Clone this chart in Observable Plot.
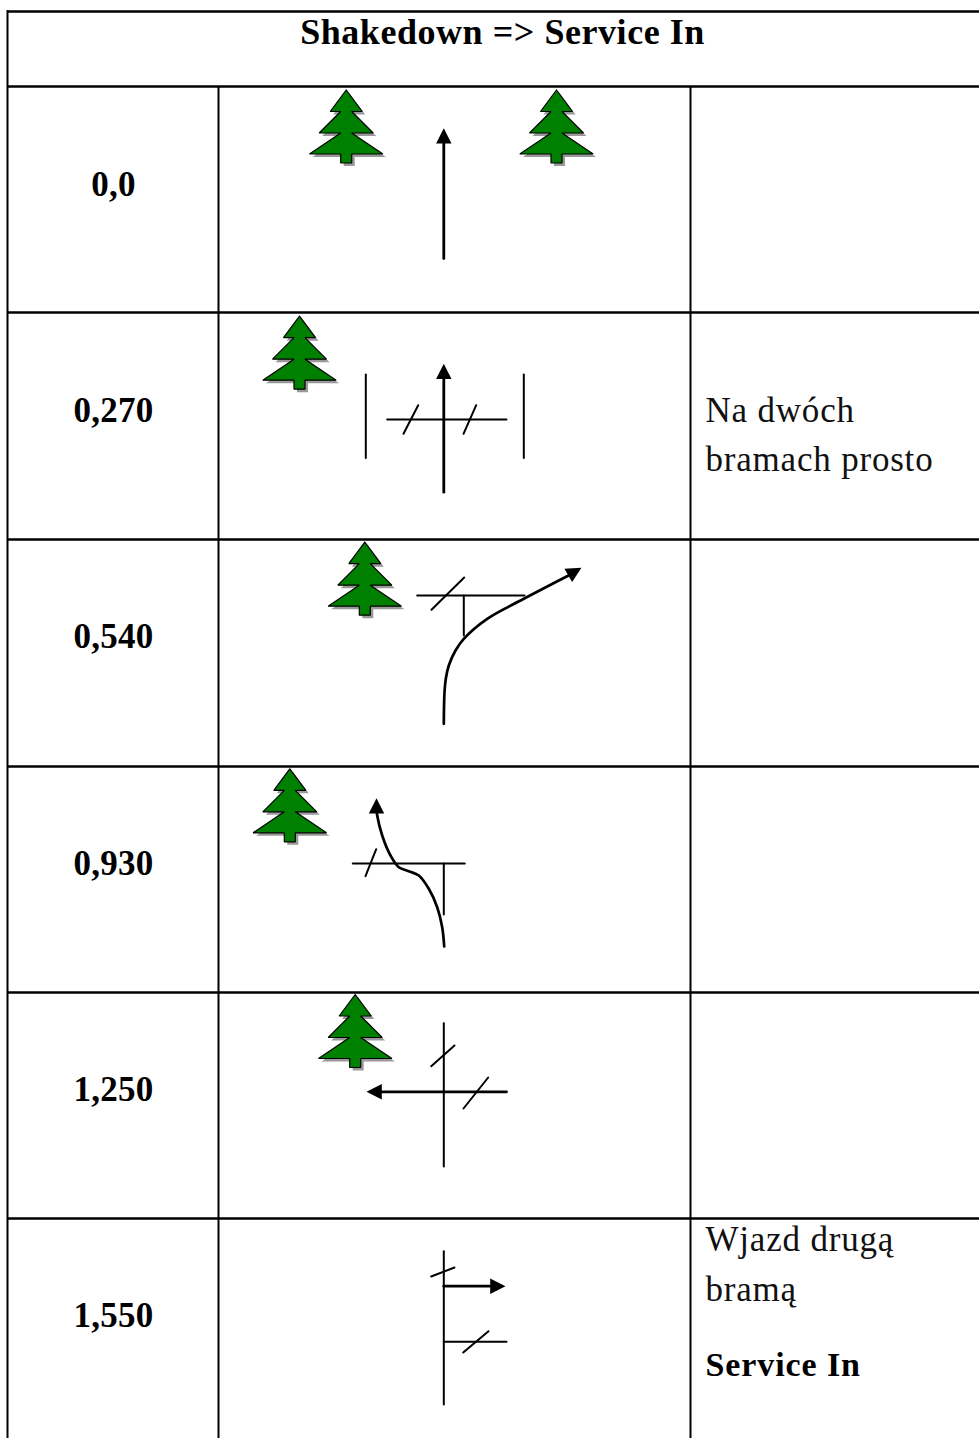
<!DOCTYPE html>
<html><head><meta charset="utf-8">
<script src="https://cdn.jsdelivr.net/npm/d3@7"></script>
<script src="https://cdn.jsdelivr.net/npm/@observablehq/plot@0.6"></script>
<style>
html,body{margin:0;padding:0;background:#fff;overflow:hidden}
svg{display:block}
</style></head><body><div id="chart"></div>
<script>
const title = "Shakedown => Service In";
const rowLabels = ["0,0","0,270","0,540","0,930","1,250","1,550"];
const rowLabelY = [195,421,647,874,1100,1326];
const rowLines = [11,86,312,539,766,992,1218];
const colLines = [218,690];
const notes = [["Na dwóch",705,421],["bramach prosto",705,470],["Wjazd drugą",705,1250],["bramą",705,1300]];
const notesBold = [["Service In",705,1375]];

const treeHalf = [[0,0],[16,21.5],[5.5,21.5],[27,43],[5.5,43],[36.7,64],[5.5,64],[5.5,73]];
const treeApex = [[345.7,89.5],[556,89.5],[299,315.7],[364.3,541.7],[289.3,768.3],[354.7,994]];

// straight line work: [x1,y1,x2,y2]
const thin = [
  [365.3,374,365.3,457.5],[523.3,374,523.3,457.5],[386.7,419,506,419],
  [403,433.3,417.7,404.7],[463,433.3,475.7,404.7],
  [416.7,595,524,595],[463.3,595,463.3,635],[431,609.3,463.7,577],
  [352.3,863,464.3,863],[443.3,863,443.3,914],[365,875.7,375.7,848.7],
  [443.3,1022.7,443.3,1166],[430.7,1065.7,454,1045],[463,1108,487.7,1077],
  [443.3,1250.7,443.3,1404],[430.7,1276,454,1267],[443.3,1341.3,506,1341.3],[462.7,1352,488,1330.7]
];
const shafts = [
  [443.3,258,443.3,140],[443.3,491.7,443.3,376],
  [506,1091.3,378,1091.3],[443.3,1285.7,493,1285.7]
];
const curve540 = [[443.3,723.3],[444,691.7],[445.3,678.3],[448.3,665],[455,650],[463.3,638.3],[486.7,618.3],[523.3,598.3],[570,574]];
const curve930 = [[443.7,946],[441.7,926.7],[436.7,906.7],[428.3,888.3],[418.3,875],[408.3,870.7],[398.3,866.7],[390,855],[381.7,835],[376.7,815],[376,808]];
// arrow heads: [tipX,tipY,direction in degrees clockwise from up]
const heads = [[443.3,127.7,0],[443.3,363.3,0],[581,567.3,60],[376,797.7,0],[366,1091.3,270],[505,1285.7,90]];

const headShape = [[0,0],[7.7,15.3],[-7.7,15.3],[0,0]];
const treeShape = [...treeHalf, ...treeHalf.slice().reverse().map(([x,y])=>[-x,y])];
const treePts = (dx,dy)=>treeApex.flatMap(([ax,ay],i)=>treeShape.map(([x,y])=>({x:ax+x+dx,y:ay+y+dy,id:i})));
const headPts = heads.flatMap(([tx,ty,a],i)=>{
  const r=a*Math.PI/180;
  return headShape.map(([x,y])=>({x:tx+x*Math.cos(r)-y*Math.sin(r),y:ty+x*Math.sin(r)+y*Math.cos(r),id:i}));
});
const segs = a=>a.flatMap(([x1,y1,x2,y2],i)=>[{x:x1,y:y1,id:i},{x:x2,y:y2,id:i}]);
const table = (a)=>a.map(([t,x,y])=>({t,x,y}));
const serif = "'Liberation Serif', serif";
const spaced = px=>(i,s,v,d,c,next)=>{const g=next(i,s,v,d,c); g.style.letterSpacing=px+"px"; return g;};

const plot = Plot.plot({
  width:979,height:1438,margin:0,
  x:{domain:[0,979],range:[0,979],axis:null},
  y:{domain:[0,1438],range:[0,1438],axis:null},
  style:{background:"#fff"},
  marks:[
    Plot.ruleY(rowLines,{x1:7,x2:979,stroke:"#000",strokeWidth:2.4}),
    Plot.ruleX([7],{y1:10,y2:1438,stroke:"#000",strokeWidth:2}),
    Plot.ruleX(colLines,{y1:86,y2:1438,stroke:"#000",strokeWidth:2}),
    Plot.line(treePts(3,3),{x:"x",y:"y",z:"id",fill:"#999",stroke:"none"}),
    Plot.line(treePts(0,0),{x:"x",y:"y",z:"id",fill:"#008000",stroke:"#000",strokeWidth:1.2,strokeLinejoin:"miter"}),
    Plot.line(segs(thin),{x:"x",y:"y",z:"id",stroke:"#000",strokeWidth:2}),
    Plot.line(segs(shafts),{x:"x",y:"y",z:"id",stroke:"#000",strokeWidth:2.8}),
    Plot.line(curve540,{x:d=>d[0],y:d=>d[1],curve:"catmull-rom",stroke:"#000",strokeWidth:2.7}),
    Plot.line(curve930,{x:d=>d[0],y:d=>d[1],curve:"catmull-rom",stroke:"#000",strokeWidth:2.7}),
    Plot.line(headPts,{x:"x",y:"y",z:"id",fill:"#000",stroke:"none"}),
    Plot.text([title],{render:spaced(.55),x:502,y:43,text:d=>d,textAnchor:"middle",lineAnchor:"bottom",fontFamily:serif,fontWeight:"bold",fontSize:36,fill:"#000"}),
    Plot.text(rowLabels,{render:spaced(.3),x:113,y:(d,i)=>rowLabelY[i],text:d=>d,textAnchor:"middle",lineAnchor:"bottom",fontFamily:serif,fontWeight:"bold",fontSize:35,fill:"#000"}),
    Plot.text(table(notes),{render:spaced(.8),x:"x",y:"y",text:"t",textAnchor:"start",lineAnchor:"bottom",fontFamily:serif,fontSize:35,fill:"#111"}),
    Plot.text(table(notesBold),{render:spaced(.9),x:"x",y:"y",text:"t",textAnchor:"start",lineAnchor:"bottom",fontFamily:serif,fontWeight:"bold",fontSize:34,fill:"#000"})
  ]
});
document.getElementById("chart").append(plot);
</script></body></html>
